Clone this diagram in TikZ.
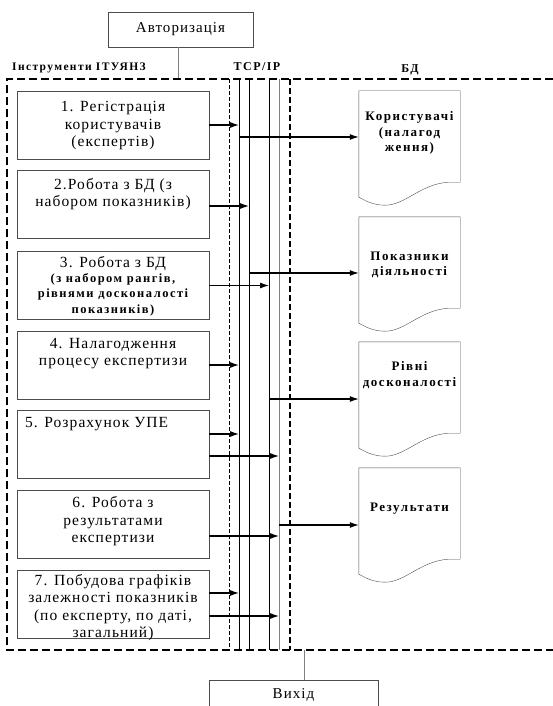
\documentclass[tikz,border=0pt]{standalone}
\usepackage{fontspec}
\setmainfont{Liberation Serif}[LetterSpace=7]
\newfontfamily\lblfont{Liberation Serif}[LetterSpace=12]
\newcommand{\rankfont}{\lblfont\bfseries\fontsize{12.5}{13.5}\selectfont}
\usetikzlibrary{arrows.meta,calc}

\tikzset{
  box/.style={draw=black!70, minimum width=192pt, minimum height=68pt, inner sep=0pt},
  boxtxt/.style={align=center, inner sep=0pt, font=\fontsize{15.5}{17.5}\selectfont},
  doc/.style={minimum width=101pt, minimum height=91pt, inner sep=0pt},
  doctxt/.style={align=center, inner sep=0pt, font=\lblfont\bfseries\fontsize{13}{15.5}\selectfont},
  hdr/.style={inner sep=0pt, font=\lblfont\bfseries\fontsize{12}{14}\selectfont},
  arr/.style={-{Latex[length=9pt,width=6pt]}, line width=1.1pt},
}

\begin{document}
\begin{tikzpicture}[x=1pt,y=-1pt]
\useasboundingbox (0,0) rectangle (553,706);

% authorisation on top
\node[draw=black!70, minimum width=145pt, minimum height=35pt, font=\fontsize{15}{17}\selectfont] (auth) at (180.5,29.5) {Авторизація};
\coordinate (authin) at (178,79);
\draw[gray] (auth.south -| authin) -- (authin);

% headings
\node[hdr, anchor=west, font=\lblfont\bfseries\fontsize{11.5}{14}\selectfont] (instr) at (12,68) {Інструменти ІТУЯНЗ};
\node[hdr] (tcp) at (257,67) {TCP/IP};
\node[hdr] (bd) at (410,70) {БД};

% dashed frames
\draw[line width=1.1pt, dash pattern=on 8pt off 4pt] (553,79) -- (7,79) -- (7,650) -- (553,650);
\draw[thin, dash pattern=on 4pt off 2pt] (229,79) -- (229,650);
\draw[line width=1.8pt, dash pattern=on 6pt off 3pt] (290,79) -- (290,650);

% TCP/IP lines
\foreach \x/\c [count=\i] in {239/black, 249/black, 269/black, 279/gray}{
    \coordinate (bus\i) at (\x,79);
    \draw[\c] (bus\i) -- (\x,650);
}

% tool boxes
\foreach \y [count=\i] in {125,204,285.5,365,444.5,524.5,604.5}{
    \node[box] (b\i) at (113,\y) {};
}

\node[boxtxt] at ([yshift=-1pt]b1) {1. Регістрація\\користувачів\\(експертів)};
\node[boxtxt, anchor=north] at ([yshift=-8pt]b2.north) {2.Робота з БД (з\\набором показників)};
\node[boxtxt] at ([yshift=-1pt]b3) {3. Робота з БД\\[-3pt]
    {\rankfont(з набором рангів,}\\[-2pt]
    {\rankfont рівнями досконалості}\\[-2pt]
    {\rankfont показників)}};
\node[boxtxt, anchor=north] at ([yshift=-7pt]b4.north) {4. Налагодження\\процесу експертизи};
\node[boxtxt, anchor=north west] at ([xshift=8pt,yshift=-7pt]b5.north west) {5. Розрахунок УПЕ};
\node[boxtxt] at ([yshift=3pt]b6) {6. Робота з\\результатами\\експертизи};
\node[boxtxt] at ([yshift=-3pt]b7) {7. Побудова графіків\\залежності показників\\(по експерту, по даті,\\загальний)};

% boxes to the lines
\draw[arr] (b1.east) -- (b1.east -| bus1);
\draw[arr] ([yshift=-2pt]b2.east) -- ([yshift=-2pt]b2.east -| bus2);
\draw[arr] (b3.east) -- (b3.east -| bus3);
\draw[arr] (b4.east) -- (b4.east -| bus1);
\draw[arr] ([yshift=10.5pt]b5.east) -- ([yshift=10.5pt]b5.east -| bus1);
\draw[arr] ([yshift=-11.5pt]b5.east) -- ([yshift=-11.5pt]b5.east -| bus4);
\draw[arr] ([yshift=-11.5pt]b6.east) -- ([yshift=-11.5pt]b6.east -| bus4);
\draw[arr] ([yshift=11.5pt]b7.east) -- ([yshift=11.5pt]b7.east -| bus1);
\draw[arr] ([yshift=-11.5pt]b7.east) -- ([yshift=-11.5pt]b7.east -| bus4);

% databases
\foreach \t/\txt/\dy [count=\i] in {91/{Користувачі\\(налагод\\ження)}/-3.5, 217/{Показники\\діяльності}/2.5, 342/{Рівні\\досконалості}/-12.5, 468/{Результати}/-4.5}{
    \node[doc] (d\i) at (409.5,\t+45.5) {};
    \draw[black!70] ($(d\i.south west)+(0,15)$) -- (d\i.north west) -- (d\i.north east) -- (d\i.south east)
        -- ++(-12,0) .. controls +(-28,2) and +(20,0) .. ++(-63,23) .. controls +(-13,0) and +(6,3) .. ($(d\i.south west)+(0,15)$);
    \node[doctxt] at ($(d\i)+(0,\dy)$) {\txt};
}

% lines to the databases
\foreach \d/\b/\dy in {1/1/0.5, 2/2/10.5, 3/3/11.5, 4/4/11.5}{
    \coordinate (din\d) at ($(d\d.west)+(0,\dy)$);
    \draw[arr] (din\d -| bus\b) -- (din\d);
}

% output
\node[draw=black!70, anchor=north, minimum width=169pt, minimum height=30pt, font=\fontsize{15}{17}\selectfont] (out) at (293.5,680) {Вихід};
\coordinate (outin) at (304,650);
\draw[gray] (outin) -- (outin |- out.north);
\end{tikzpicture}
\end{document}
